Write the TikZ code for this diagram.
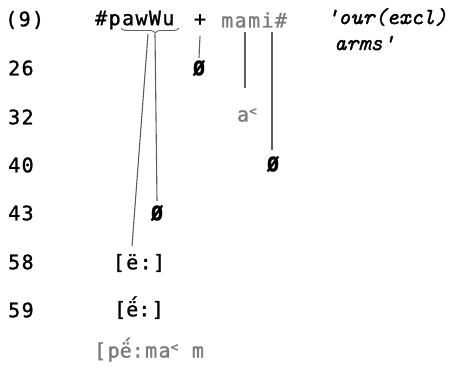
\documentclass[tikz,border=0pt]{standalone}
\usepackage{fontspec}
\usetikzlibrary{decorations.pathreplacing}
\newfontfamily\tw[LetterSpace=7, FakeBold=1.2]{DejaVu Sans Mono}
\newfontfamily\glossfont[FakeBold=1.5]{Latin Modern Mono}
\definecolor{inkgray}{HTML}{7A7A7A}
\definecolor{rulegray}{HTML}{5E5E5E}
\newcommand{\hi}[1]{\raisebox{0.55ex}{\fontsize{13}{13}\selectfont #1}}
\newcommand{\eacc}{\ooalign{ë\cr\hidewidth\raisebox{0.2em}{\kern0.12em´}\hidewidth\cr}}
\begin{document}
\begin{tikzpicture}[x=1pt, y=-1pt,
    tw/.style={font=\tw\fontsize{20}{22}\selectfont, inner sep=0pt},
    faint/.style={tw, text=inkgray},
    nul/.style={font=\tw\bfseries\fontsize{20}{22}\selectfont, inner sep=0pt},
    gloss/.style={font=\glossfont\itshape\fontsize{23}{25}\selectfont, inner sep=0pt, anchor=west},
    link/.style={draw=rulegray, line width=1.1pt},
    brace/.style={draw=rulegray, line width=0.9pt, decorate,
      decoration={brace, mirror, amplitude=5pt, aspect=0.59}}
  ]
  \useasboundingbox (0,0) rectangle (468,370);
  % stage numbers
  \node[tw, anchor=west] (ex) at (5,20) {(9)};
  \foreach \n/\y in {26/68, 32/117, 40/165, 43/213, 58/262, 59/310}
    \node[tw, anchor=west] (r\n) at (8,\y) {\n};
  % underlying form
  \node[tw, anchor=west] (form) at (95,20) {\#pawWu};
  \node[tw] (plus) at (200,20) {+};
  \node[faint, anchor=west] (mami) at (221,20) {mami\#};
  \node[gloss] (gl1) at (326,17) {'our(excl)};
  \node[gloss] (gl2) at (334,43) {arms'};
  % outputs
  \node[nul] (z26) at (199,68) {Ø};
  \node[faint] (a32) at (247,115) {a\hi{<}};
  \node[nul] (z40) at (273,164) {Ø};
  \node[nul] (z43) at (157,213) {Ø};
  \node[tw] (e58) at (139,263) {[ë:]};
  \node[tw] (e59) at (139,310) {[\eacc:]};
  \node[faint, anchor=west] (out) at (94,352) {[p\eacc:ma\hi{<} m};
  % rule lines
  \coordinate (brL) at (121,28);
  \coordinate (brR) at (179,28);
  \coordinate (tipA) at (148,34);
  \coordinate (tipB) at (155,34);
  \coordinate (footA) at (132,246);
  \coordinate (mA) at (245,32);
  \coordinate (mB) at (272,32);
  \draw[brace] (brL) -- (brR);
  \draw[link] (tipA) -- (footA);
  \draw[link] (tipB) -- (z43.north |- 0,201);
  \draw[link] ([yshift=-10pt]plus.south) -- ([yshift=2pt]z26.north);
  \draw[link] (mA) -- (mA |- 0,88);
  \draw[link] (mB) -- (mB |- 0,150);
\end{tikzpicture}
\end{document}
